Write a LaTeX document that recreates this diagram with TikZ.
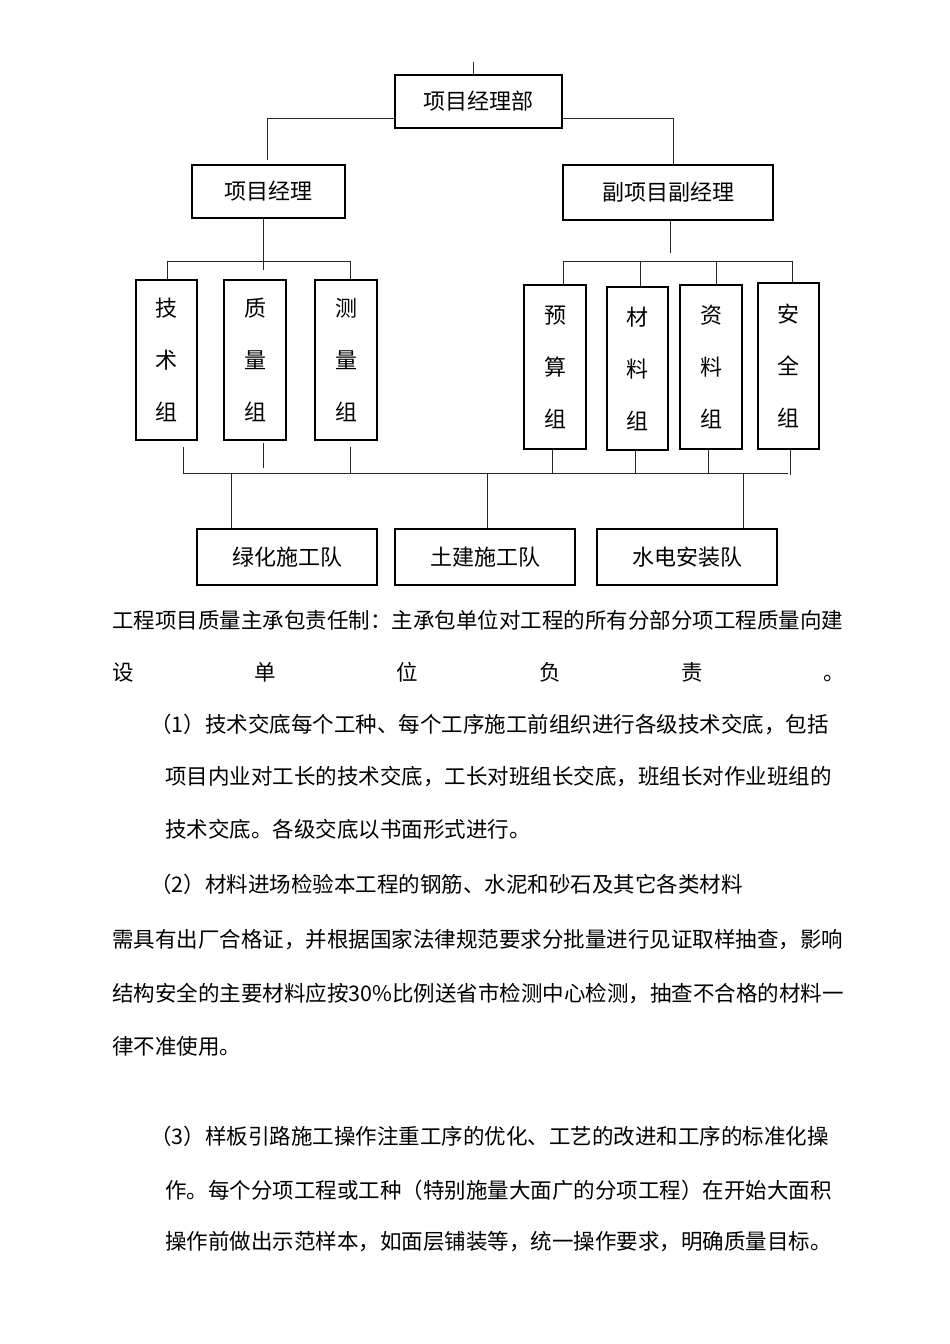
\documentclass[tikz,border=0pt]{standalone}
\usepackage{fontspec}
\newfontfamily\cjk{Noto Sans CJK SC}
\XeTeXlinebreaklocale "zh"
\XeTeXlinebreakskip=0pt plus 1fil
\begin{document}
\begin{tikzpicture}[x=1pt,y=-1pt,
  box/.style={draw, line width=1.5pt, inner sep=0pt, font=\cjk\fontsize{22}{22}\selectfont},
  vbox/.style={draw, line width=1.5pt, inner sep=0pt, align=center, font=\cjk\fontsize{22}{52}\selectfont},
  conn/.style={line width=1pt, draw=black!85},
  para/.style={anchor=west, inner sep=0pt, font=\cjk\fontsize{21.5}{21.5}\selectfont}]
\useasboundingbox[fill=white] (0,0) rectangle (950,1344);

% boxes
\node[box, minimum width=167pt, minimum height=53pt] (top) at (478.5,101.5) {项目经理部};
\node[box, minimum width=153pt, minimum height=53pt] (pm) at (268.5,191.5) {项目经理};
\node[box, minimum width=210pt, minimum height=55pt] (dpm) at (668,192.5) {副项目副经理};

\node[vbox, minimum width=61pt, minimum height=160pt] (g1) at (166.5,360) {技\\术\\组};
\node[vbox, minimum width=62pt, minimum height=160pt] (g2) at (255,360) {质\\量\\组};
\node[vbox, minimum width=62pt, minimum height=160pt] (g3) at (346,360) {测\\量\\组};
\node[vbox, minimum width=62pt, minimum height=164pt] (g4) at (555,367) {预\\算\\组};
\node[vbox, minimum width=61pt, minimum height=163pt] (g5) at (637.5,368.5) {材\\料\\组};
\node[vbox, minimum width=62pt, minimum height=164pt] (g6) at (711,367) {资\\料\\组};
\node[vbox, minimum width=61pt, minimum height=166pt] (g7) at (788.5,366) {安\\全\\组};

\node[box, minimum width=180pt, minimum height=56pt] (t1) at (287,557) {绿化施工队};
\node[box, minimum width=180pt, minimum height=56pt] (t2) at (485,557) {土建施工队};
\node[box, minimum width=180pt, minimum height=56pt] (t3) at (687,557) {水电安装队};

% connectors top
\coordinate (tick) at (473,62);
\draw[conn] (tick) -- (tick |- top.north);
\coordinate (tl) at (267,118);
\coordinate (tlb) at (267,160);
\draw[conn] (top.west |- tl) -- (tl) -- (tlb);
\coordinate (tr) at (673,118);
\draw[conn] (top.east |- tr) -- (tr) -- (tr |- dpm.north);

% project manager branch
\coordinate (pmd) at (263,270);
\draw[conn] (pmd |- pm.south) -- (pmd);
\coordinate (b1l) at (167,261);
\coordinate (b1r) at (350,261);
\draw[conn] (b1l) -- (b1r);
\draw[conn] (b1l) -- (b1l |- g1.north);
\draw[conn] (b1r) -- (b1r |- g3.north);

% deputy branch
\coordinate (dpmd) at (670,253);
\draw[conn] (dpmd |- dpm.south) -- (dpmd);
\coordinate (b2l) at (563,261);
\coordinate (b2r) at (792,261);
\coordinate (b2a) at (640,261);
\coordinate (b2b) at (716,261);
\draw[conn] (b2l) -- (b2r);
\draw[conn] (b2l) -- (b2l |- g4.north);
\draw[conn] (b2a) -- (b2a |- g5.north);
\draw[conn] (b2b) -- (b2b |- g6.north);
\draw[conn] (b2r) -- (b2r |- g7.north);

% lower bus
\coordinate (busL) at (183,473);
\coordinate (busR) at (788,473);
\draw[conn] (busL) -- (busR);
\draw[conn] (busL) -- ++(0,-26);
\coordinate (m2) at (263,468);
\draw[conn] (m2) -- ++(0,-25);
\coordinate (m3) at (350,473);
\draw[conn] (m3) -- ++(0,-26);
\coordinate (r1) at (552,473);
\coordinate (r2) at (635,473);
\coordinate (r3) at (708,473);
\coordinate (r4) at (790,475);
\draw[conn] (r1 |- g4.south) -- (r1);
\draw[conn] (r2 |- g5.south) -- (r2);
\draw[conn] (r3 |- g6.south) -- (r3);
\draw[conn] (r4 |- g7.south) -- (r4);
\coordinate (d1) at (231,473);
\coordinate (d2) at (487,473);
\coordinate (d3) at (743,473);
\draw[conn] (d1) -- (d1 |- t1.north);
\draw[conn] (d2) -- (d2 |- t2.north);
\draw[conn] (d3) -- (d3 |- t3.north);

% paragraphs
\node[para] (p1) at (112,620) {\hbox to 733pt{工程项目质量主承包责任制：主承包单位对工程的所有分部分项工程质量向建}};
\node[para] (p2) at (112,672) {\hbox to 733pt{设\hfill 单\hfill 位\hfill 负\hfill 责\hfill 。}};
\node[para] (p3) at (150,724) {\hbox to 678pt{（1）技术交底每个工种、每个工序施工前组织进行各级技术交底，包括}};
\node[para] (p4) at (165,777) {项目内业对工长的技术交底，工长对班组长交底，班组长对作业班组的};
\node[para] (p5) at (165,829) {技术交底。各级交底以书面形式进行。};
\node[para] (p6) at (150,884) {（2）材料进场检验本工程的钢筋、水泥和砂石及其它各类材料};
\node[para] (p7) at (112,940) {\hbox to 733pt{需具有出厂合格证，并根据国家法律规范要求分批量进行见证取样抽查，影响}};
\node[para] (p8) at (112,993) {\hbox to 733pt{结构安全的主要材料应按30\%比例送省市检测中心检测，抽查不合格的材料一}};
\node[para] (p9) at (112,1046) {律不准使用。};
\node[para] (p10) at (150,1136) {\hbox to 693pt{（3）样板引路施工操作注重工序的优化、工艺的改进和工序的标准化操}};
\node[para] (p11) at (165,1190) {作。每个分项工程或工种（特别施量大面广的分项工程）在开始大面积};
\node[para] (p12) at (165,1242) {操作前做出示范样本，如面层铺装等，统一操作要求，明确质量目标。};
\end{tikzpicture}
\end{document}
